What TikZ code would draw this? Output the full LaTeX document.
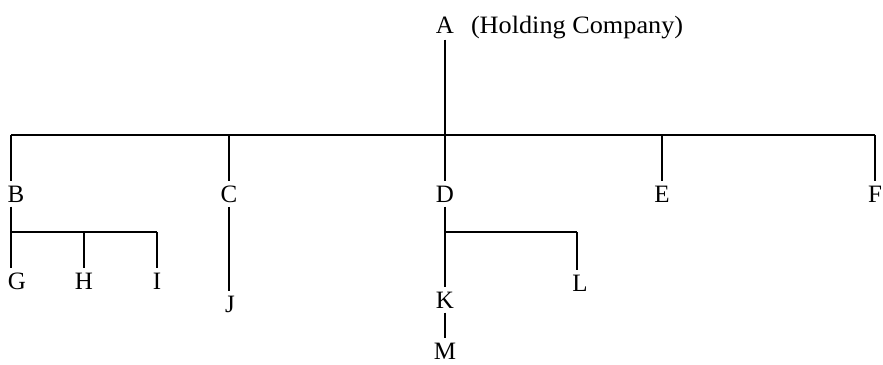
\documentclass[tikz,border=0pt]{standalone}
\usepackage{fontspec}
\setmainfont{Liberation Serif}
\begin{document}
\begin{tikzpicture}[x=1pt,y=-1pt,
  lbl/.style={inner xsep=0pt, inner ysep=4.5pt, outer sep=0pt, font=\fontsize{25}{25}\selectfont},
  conn/.style={line width=1.6pt}]
\useasboundingbox (0,0) rectangle (883,364);
% labels
\node[lbl, anchor=base] (A) at (445,33) {A};
\node[lbl, anchor=base west] (HC) at (471,33) {\scalebox{1.05}[1]{(Holding Company)}};
\node[lbl] (B) at (16,194) {B};
\node[lbl] (C) at (229,194) {C};
\node[lbl] (D) at (445,194) {D};
\node[lbl] (E) at (662,194) {E};
\node[lbl] (F) at (875,194) {F};
\node[lbl] (G) at (17,281) {G};
\node[lbl] (H) at (84,281) {H};
\node[lbl] (I) at (157,281) {I};
\node[lbl] (J) at (230,304) {J};
\node[lbl] (K) at (445,300) {K};
\node[lbl] (L) at (580,283) {L};
\node[lbl] (M) at (445,351) {M};
% branch points
\coordinate (tB) at (11,135);
\coordinate (tC) at (229,135);
\coordinate (tD) at (445,135);
\coordinate (tE) at (662,135);
\coordinate (tF) at (875,135);
\coordinate (sB) at (11,232);
\coordinate (sH) at (84,232);
\coordinate (sI) at (157,232);
\coordinate (sD) at (445,232);
\coordinate (sL) at (577,232);
% connectors
\draw[conn] (tB) -- (tF);
\draw[conn] ([yshift=-2pt]A.south) -- (D.north);
\draw[conn] (tB) -- (tB |- B.north);
\draw[conn] (tC) -- (tC |- C.north);
\draw[conn] (tE) -- (E.north);
\draw[conn] (tF) -- (tF |- F.north);
\draw[conn] (sB |- B.south) -- (sB);
\draw[conn] (sB) -- (sI);
\draw[conn] (sB) -- (sB |- G.north);
\draw[conn] (sH) -- (H.north);
\draw[conn] (sI) -- (I.north);
\draw[conn] (tC |- C.south) -- (tC |- J.north);
\draw[conn] (D.south) -- (K.north);
\draw[conn] (sD) -- (sL);
\draw[conn] (sL) -- (sL |- L.north);
\draw[conn] (K.south) -- (M.north);
\end{tikzpicture}
\end{document}
